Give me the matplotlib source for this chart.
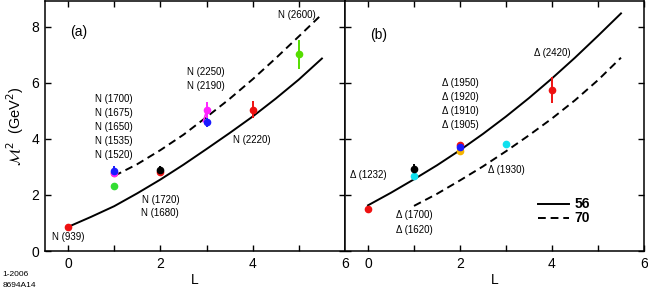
"""Baryon Regge trajectories, M^2 vs L: (a) nucleons, (b) deltas."""
import matplotlib
matplotlib.use("Agg")
import matplotlib.pyplot as plt

plt.rcParams["font.family"] = ["Liberation Sans", "DejaVu Sans"]
plt.rcParams["mathtext.fontset"] = "dejavusans"

# model curves
L_full = [0, 0.5, 1, 1.5, 2, 2.5, 3, 3.5, 4, 4.5, 5, 5.5]
L_from1 = [1, 1.5, 2, 2.5, 3, 3.5, 4, 4.5, 5, 5.5]
a_56 = [0.86, 1.22, 1.60, 2.06, 2.55, 3.08, 3.64, 4.21, 4.80, 5.44, 6.12, 6.87]
a_70 = [2.68, 3.10, 3.60, 4.15, 4.78, 5.43, 6.13, 6.88, 7.66, 8.45]
b_56 = [1.63, 2.08, 2.56, 3.06, 3.60, 4.18, 4.80, 5.46, 6.16, 6.90, 7.68, 8.48]
b_70 = [1.61, 2.04, 2.52, 3.02, 3.56, 4.13, 4.73, 5.38, 6.10, 6.90]

# measured states: (L, M^2, error, colour)
a_pts = [
    (0, 0.86, 0.0, "#ee1111"),
    (1, 2.31, 0.0, "#33dd33"),
    (1, 2.77, 0.0, "#f5b400"),
    (1, 2.80, 0.0, "#ff22ff"),
    (1, 2.87, 0.15, "#1a1aff"),
    (2, 2.82, 0.0, "#ee1111"),
    (2, 2.88, 0.14, "#000000"),
    (3, 4.61, 0.20, "#1a1aff"),
    (3, 5.03, 0.30, "#ff22ff"),
    (4, 5.05, 0.30, "#ee1111"),
    (5, 7.02, 0.52, "#55dd00"),
]
b_pts = [
    (0, 1.50, 0.0, "#ee1111"),
    (1, 2.67, 0.0, "#11e0ee"),
    (1, 2.94, 0.15, "#000000"),
    (2, 3.56, 0.0, "#f5b400"),
    (2, 3.77, 0.0, "#ee1111"),
    (2, 3.71, 0.0, "#1a1aff"),
    (3, 3.81, 0.0, "#11e0ee"),
    (4, 5.76, 0.46, "#ee1111"),
]

a_labels = [
    (0, 0.50, "N (939)"),
    (1, 5.41, "N (1700)"), (1, 4.91, "N (1675)"), (1, 4.41, "N (1650)"),
    (1, 3.91, "N (1535)"), (1, 3.41, "N (1520)"),
    (2, 1.81, "N (1720)"), (2, 1.34, "N (1680)"),
    (2.98, 6.39, "N (2250)"), (2.98, 5.89, "N (2190)"),
    (3.98, 3.95, "N (2220)"),
    (4.95, 8.42, "N (2600)"),
]
b_labels = [
    (0, 2.70, "Δ (1232)"),
    (1, 1.27, "Δ (1700)"), (1, 0.76, "Δ (1620)"),
    (2, 6.00, "Δ (1950)"), (2, 5.48, "Δ (1920)"),
    (2, 4.99, "Δ (1910)"), (2, 4.49, "Δ (1905)"),
    (3, 2.88, "Δ (1930)"),
    (4, 7.05, "Δ (2420)"),
]

DASH = (0, (4, 2.5))

fig = plt.figure(figsize=(6.48, 2.93), dpi=100)
ax_a = fig.add_axes([0.0694, 0.1433, 0.463, 0.853])
ax_b = fig.add_axes([0.5324, 0.1433, 0.4614, 0.853])


def style(ax, ylabels):
    ax.set_xlim(-0.5, 6)
    ax.set_ylim(0, 8.92)
    ax.set_xticks(range(7))
    ax.set_xticklabels(["0", "", "2", "", "4", "", "6"])
    ax.set_yticks([0, 2, 4, 6, 8])
    if not ylabels:
        ax.set_yticklabels([])
    ax.tick_params(direction="in", top=True, right=True, length=4, width=1,
                   labelsize=10, pad=4)
    for s in ax.spines.values():
        s.set_linewidth(1.1)
    ax.set_xlabel("L", fontsize=10, labelpad=2)


def draw_points(ax, pts):
    for L, m2, err, col in pts:
        if err > 0:
            ax.errorbar(L, m2, yerr=err, fmt="o", color=col, ms=4.5,
                        elinewidth=1.4, capsize=0, zorder=4)
        else:
            ax.plot(L, m2, "o", color=col, ms=4.5, zorder=4)


# panel (a)
ax_a.plot(L_full, a_56, color="black", lw=1.4)
ax_a.plot(L_from1, a_70, color="black", lw=1.4, linestyle=DASH)
ax_a.plot([2.93, 3.0], [4.62, 5.0], color="#ff22ff", lw=1.2, zorder=3)
draw_points(ax_a, a_pts)
for x, y, t in a_labels:
    ax_a.text(x, y, t, fontsize=7, ha="center", va="center")
ax_a.text(0.05, 7.8, "(a)", fontsize=10, ha="left", va="center")
style(ax_a, True)
ax_a.set_ylabel(r"$\mathcal{M}^2$  (GeV$^2$)", fontsize=10.5, labelpad=4)

# panel (b)
ax_b.plot(L_full, b_56, color="black", lw=1.4)
ax_b.plot(L_from1, b_70, color="black", lw=1.4, linestyle=DASH)
draw_points(ax_b, b_pts)
for x, y, t in b_labels:
    ax_b.text(x, y, t, fontsize=7, ha="center", va="center")
ax_b.text(0.05, 7.72, "(b)", fontsize=10, ha="left", va="center")
ax_b.plot([3.70, 4.36], [1.67, 1.67], color="black", lw=1.4)
ax_b.plot([3.70, 4.36], [1.17, 1.17], color="black", lw=1.4, linestyle=DASH)
ax_b.text(4.48, 1.67, "56", fontsize=10, fontweight="bold", va="center")
ax_b.text(4.48, 1.17, "70", fontsize=10, fontweight="bold", va="center")
style(ax_b, False)

fig.text(0.004, 0.062, "1-2006", fontsize=6, va="center")
fig.text(0.004, 0.024, "8694A14", fontsize=6, va="center")

fig.savefig("out.png", dpi=100)
